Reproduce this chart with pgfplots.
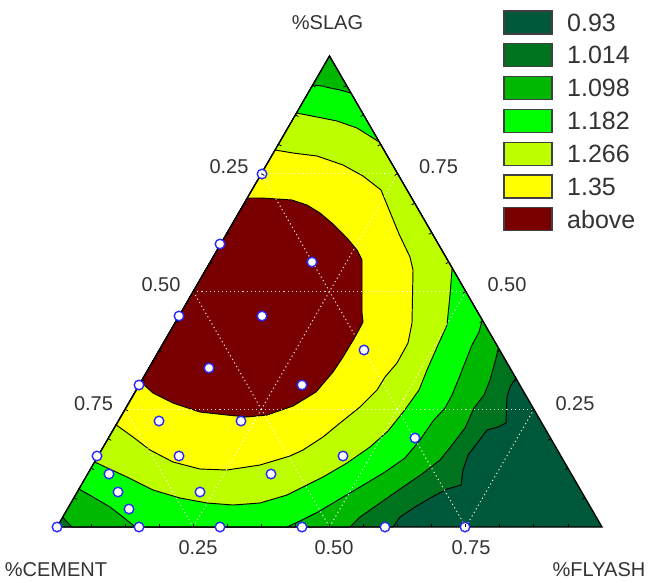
\documentclass[border=0pt]{standalone}
\usepackage{pgfplots}
\pgfplotsset{compat=1.18}
\usepackage{fontspec}
\setmainfont{Liberation Sans}
\definecolor{cA}{RGB}{0,88,58}
\definecolor{cB}{RGB}{0,115,30}
\definecolor{cC}{RGB}{0,184,0}
\definecolor{cD}{RGB}{0,255,0}
\definecolor{cE}{RGB}{190,255,0}
\definecolor{cF}{RGB}{255,255,0}
\definecolor{cG}{RGB}{120,0,0}
\definecolor{cpt}{RGB}{40,40,255}
\begin{document}
\begin{tikzpicture}
\begin{axis}[width=652pt,height=582pt,scale only axis,
  xmin=0,xmax=652,ymin=0,ymax=582,y dir=reverse,
  axis lines=none,clip=false]
\path[draw=none] (axis cs:0,0) rectangle (axis cs:652,582);
% base triangle (0.93)
\addplot[fill=cA,draw=none] coordinates {(57,527) (602,527) (329.5,56) (57,527)};
% >= 1.014
\addplot[fill=cB,draw=black,line width=0.95pt] coordinates {
(57,527) (393,527) (400,517) (415,507) (432,497) (447,489) (461,485) (463,470)
(468,455) (478,442) (487,430) (498,427) (506,423) (507,397) (510,387) (515.8,378)
(329.5,56) (57,527)};
% >= 1.098
\addplot[fill=cC,draw=black,line width=0.95pt] coordinates {
(62.8,517) (66,521) (72,527) (350,527) (360,517) (380,503) (400,489) (422,474)
(440,460) (452,445) (465,428) (474,408) (484,395) (490,380) (495,362) (498.4,348)
(329.5,56) (62.8,517)};
% >= 1.182
\addplot[fill=cD,draw=black,line width=0.95pt] coordinates {
(312.7,85) (322,86) (330,88) (340,90) (350.9,93) (482.2,320) (479,332) (472,345)
(466,360) (459,378) (452,395) (445,408) (433,421) (420,440) (405,458) (385,472)
(360,487) (338,500) (318,512) (300,521) (287,527) (136,527) (133,525) (123,517)
(110,507) (93,497) (79,489) (312.7,85)};
% >= 1.266
\addplot[fill=cE,draw=black,line width=0.95pt] coordinates {
(296.5,113) (317,117) (337,121) (357,128) (379.3,142) (452.1,268) (450,295)
(447,325) (438,345) (427,370) (419,390) (404,411) (388,431) (370,447) (347,463)
(323,477) (303,487) (287,495) (260,503) (233,505) (207,503) (180,498) (153,490)
(127,477) (94.6,462) (296.5,113)};
% >= 1.35
\addplot[fill=cF,draw=black,line width=0.95pt] coordinates {
(275.1,150) (293,153) (317,156) (343,165) (363,176) (381,190) (390,212) (399,234)
(410,257) (413,270) (412,323) (408,343) (397,363) (385,377) (377,390) (360,407)
(340,423) (323,437) (303,450) (290,456) (260,465) (227,470) (200,469) (173,462)
(150,450) (133,437) (116.3,425) (275.1,150)};
% above
\addplot[fill=cG,draw=black,line width=0.95pt] coordinates {
(247.3,198) (262,198) (277,199) (292,200) (307,205) (320,213) (333,224) (347,238)
(357,250) (362,260) (362,313) (363,322) (355,337) (343,357) (333,372) (316,392)
(293,406) (267,415) (247,417) (227,415) (200,412) (173,403) (153,393) (143,384)
(141.8,380) (247.3,198)};
% grid
\addplot[white,line width=1.1pt,dash pattern=on 1.1pt off 3pt,opacity=0.85] coordinates {(125.1,409.25) (533.9,409.25)};
\addplot[white,line width=1.1pt,dash pattern=on 1.1pt off 3pt,opacity=0.85] coordinates {(193.25,291.5) (465.75,291.5)};
\addplot[white,line width=1.1pt,dash pattern=on 1.1pt off 3pt,opacity=0.85] coordinates {(261.4,173.75) (397.6,173.75)};
\addplot[white,line width=1.1pt,dash pattern=on 1.1pt off 3pt,opacity=0.85] coordinates {(261.4,173.75) (465.75,527)};
\addplot[white,line width=1.1pt,dash pattern=on 1.1pt off 3pt,opacity=0.85] coordinates {(193.25,291.5) (329.5,527)};
\addplot[white,line width=1.1pt,dash pattern=on 1.1pt off 3pt,opacity=0.85] coordinates {(125.1,409.25) (193.25,527)};
\addplot[white,line width=1.1pt,dash pattern=on 1.1pt off 3pt,opacity=0.85] coordinates {(193.25,527) (397.6,173.75)};
\addplot[white,line width=1.1pt,dash pattern=on 1.1pt off 3pt,opacity=0.85] coordinates {(329.5,527) (465.75,291.5)};
\addplot[white,line width=1.1pt,dash pattern=on 1.1pt off 3pt,opacity=0.85] coordinates {(465.75,527) (533.9,409.25)};
% design points
\addplot[only marks,mark=*,mark size=4.8pt,mark options={fill=white,draw=cpt,line width=1.4pt}] coordinates {
(262,174) (220,244) (312,262) (179,316) (262,316) (209,368) (139,385) (302,385)
(364,350) (159,421) (241,421) (97,456) (179,456) (343,456) (109,474) (271,474)
(415,438) (118,492) (200,492) (129,509) (57,527) (139,527) (220,527) (302,527)
(385,527) (465,527)};
% border
\addplot[draw=black,line width=1.3pt,line join=miter] coordinates {(57,527) (602,527) (329.5,56) (57,527) (602,527)};
\end{axis}
% ticks (picture coordinates: x pt, 582-y pt)
\foreach \k in {1,...,15}{
\draw[black,line width=0.8pt] ({57+34.0625*\k pt},55pt) -- ({57+34.0625*\k pt},58.5pt);
\draw[black,line width=0.8pt] ({57+17.03*\k pt},{55+29.44*\k pt}) -- ({60+17.03*\k pt},{53.3+29.44*\k pt});
\draw[black,line width=0.8pt] ({602-17.03*\k pt},{55+29.44*\k pt}) -- ({599-17.03*\k pt},{53.3+29.44*\k pt});
}
% labels
\begin{scope}[every node/.style={font=\fontsize{20}{24}\selectfont,text=black!80,inner sep=0pt}]
\node at (327.5pt,559pt) {\%SLAG};
\node at (56pt,12pt) {\%CEMENT};
\node at (599pt,12pt) {\%FLYASH};
\node at (229pt,415pt) {0.25};
\node at (161pt,297pt) {0.50};
\node at (93.5pt,178pt) {0.75};
\node at (438.5pt,415pt) {0.75};
\node at (507pt,297pt) {0.50};
\node at (575pt,178pt) {0.25};
\node at (198pt,34pt) {0.25};
\node at (334pt,34pt) {0.50};
\node at (471pt,34pt) {0.75};
\end{scope}
% legend
\begin{scope}[every node/.style={font=\fontsize{25}{28}\selectfont,text=black!80,inner sep=0pt,anchor=west}]
\foreach \c/\t [count=\i from 0] in {cA/0.93,cB/1.014,cC/1.098,cD/1.182,cE/1.266,cF/1.35,cG/above}{
\filldraw[fill=\c,draw=black!75,line width=1.2pt] (504pt,{571-32.8*\i pt}) rectangle (552pt,{548-32.8*\i pt});
\node at (567pt,{559.5-32.8*\i pt}) {\t};
}
\end{scope}
\end{tikzpicture}
\end{document}
